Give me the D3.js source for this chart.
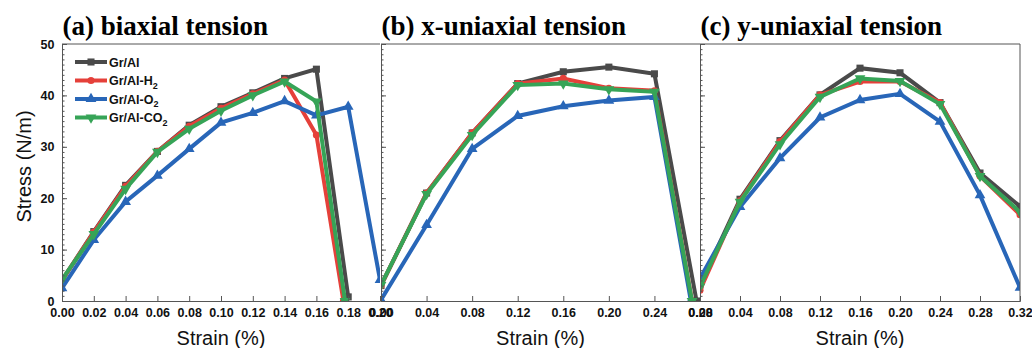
<!DOCTYPE html>
<html><head><meta charset="utf-8">
<script src="https://cdn.jsdelivr.net/npm/d3@7"></script>
<style>
html,body{margin:0;padding:0;background:#fff;}
svg{display:block;}
</style></head>
<body>
<svg id="chart" width="1032" height="348"></svg>
<script>
// ---------- DATA ----------
const seriesNames = ["Gr/Al", "Gr/Al-H2", "Gr/Al-O2", "Gr/Al-CO2"];
const panelTitles = ["(a) biaxial tension", "(b) x-uniaxial tension", "(c) y-uniaxial tension"];
const yTicks = [0, 10, 20, 30, 40, 50];
const xTicksA = [0, 0.02, 0.04, 0.06, 0.08, 0.10, 0.12, 0.14, 0.16, 0.18, 0.20];
const xTicksB = [0, 0.04, 0.08, 0.12, 0.16, 0.20, 0.24, 0.28];
const xTicksC = [0, 0.04, 0.08, 0.12, 0.16, 0.20, 0.24, 0.28, 0.32];

// (a) biaxial tension
const aGrAlX = [0, 0.02, 0.04, 0.06, 0.08, 0.10, 0.12, 0.14, 0.16, 0.18];
const aGrAlY = [4.0, 13.5, 22.5, 29.1, 34.2, 37.8, 40.5, 43.3, 45.1, 0.8];
const aH2X = [0, 0.02, 0.04, 0.06, 0.08, 0.10, 0.12, 0.14, 0.16, 0.177];
const aH2Y = [4.0, 13.4, 22.3, 29.1, 34.0, 37.5, 40.3, 43.0, 32.3, 0];
const aO2X = [0, 0.02, 0.04, 0.06, 0.08, 0.10, 0.12, 0.14, 0.16, 0.18, 0.20];
const aO2Y = [2.5, 11.9, 19.3, 24.4, 29.6, 34.7, 36.6, 38.9, 36.1, 37.8, 4.1];
const aCO2X = [0, 0.02, 0.04, 0.06, 0.08, 0.10, 0.12, 0.14, 0.16, 0.178];
const aCO2Y = [4.2, 13.0, 21.8, 29.0, 33.5, 37.0, 40.0, 42.7, 38.8, 0];

// (b) x-uniaxial tension
const bGrAlX = [0, 0.04, 0.08, 0.12, 0.16, 0.20, 0.24, 0.277];
const bGrAlY = [3.0, 21.0, 32.7, 42.3, 44.6, 45.5, 44.2, 0];
const bH2X = [0, 0.04, 0.08, 0.12, 0.16, 0.20, 0.24, 0.273];
const bH2Y = [3.0, 21.0, 32.7, 42.3, 43.3, 41.4, 40.9, 0];
const bO2X = [0, 0.04, 0.08, 0.12, 0.16, 0.20, 0.24, 0.272];
const bO2Y = [0.2, 14.8, 29.6, 36.0, 37.9, 39.0, 39.7, 0];
const bCO2X = [0, 0.04, 0.08, 0.12, 0.16, 0.20, 0.24, 0.273];
const bCO2Y = [3.1, 20.8, 32.3, 42.0, 42.3, 41.2, 40.7, 0];

// (c) y-uniaxial tension
const cStrain = [0, 0.04, 0.08, 0.12, 0.16, 0.20, 0.24, 0.28, 0.32];
const cGrAlY = [3.1, 19.8, 31.2, 40.1, 45.3, 44.4, 38.6, 24.9, 18.4];
const cH2Y = [2.1, 19.5, 31.0, 40.1, 42.7, 42.7, 38.6, 24.3, 16.8];
const cO2Y = [4.4, 18.3, 27.8, 35.7, 39.1, 40.3, 34.9, 20.6, 2.6];
const cCO2Y = [2.8, 19.3, 30.5, 39.7, 43.3, 42.8, 38.3, 24.3, 17.3];

// ---------- STYLE ----------
const colors = ["#4a4a4a", "#e5403a", "#2866b8", "#36a457"];
const symbols = [d3.symbolSquare, d3.symbolCircle, d3.symbolTriangle, d3.symbolTriangle];
const symRot = [0, 0, 0, 180];

const zip = (xs, ys) => xs.map((x, i) => [x, ys[i]]);
const panels = [
  { title: panelTitles[0], range: [62, 380], max: 0.20, ticks: xTicksA, labels: true,
    series: [zip(aGrAlX, aGrAlY), zip(aH2X, aH2Y), zip(aO2X, aO2Y), zip(aCO2X, aCO2Y)] },
  { title: panelTitles[1], range: [381, 700], max: 0.28, ticks: xTicksB, labels: false,
    series: [zip(bGrAlX, bGrAlY), zip(bH2X, bH2Y), zip(bO2X, bO2Y), zip(bCO2X, bCO2Y)] },
  { title: panelTitles[2], range: [700, 1020], max: 0.32, ticks: xTicksC, labels: false,
    series: [zip(cStrain, cGrAlY), zip(cStrain, cH2Y), zip(cStrain, cO2Y), zip(cStrain, cCO2Y)] }
];

const svg = d3.select("#chart");
const plotTop = 44, plotBottom = 301;
const y = d3.scaleLinear().domain([0, 50]).range([plotBottom, plotTop]);
const axisColor = "#555";
const tickFont = "'Liberation Sans', Arial, sans-serif";

panels.forEach((p, pi) => {
  const x = d3.scaleLinear().domain([0, p.max]).range(p.range);
  const g = svg.append("g");

  const clipId = "clip" + pi;
  svg.append("clipPath").attr("id", clipId).append("rect")
    .attr("x", p.range[0]).attr("y", plotTop).attr("width", p.range[1] - p.range[0]).attr("height", plotBottom - plotTop);

  const plot = g.append("g").attr("clip-path", `url(#${clipId})`);
  const line = d3.line().x(d => x(d[0])).y(d => y(d[1]));
  p.series.forEach((s, si) => {
    plot.append("path").datum(s).attr("d", line)
      .attr("fill", "none").attr("stroke", colors[si]).attr("stroke-width", 4)
      .attr("stroke-linejoin", "miter");
    plot.selectAll(null).data(s).enter().append("path")
      .attr("d", d3.symbol().type(symbols[si]).size(si === 1 ? 40 : 50))
      .attr("transform", d => `translate(${x(d[0])},${y(d[1])}) rotate(${symRot[si]})`)
      .attr("fill", colors[si]);
  });

  const xAxis = g.append("g").attr("transform", `translate(0,${plotBottom})`)
    .call(d3.axisBottom(x).tickValues(p.ticks).tickFormat(d3.format(".2f")).tickSize(-5).tickPadding(7));
  xAxis.select(".domain").attr("stroke", axisColor);
  xAxis.selectAll(".tick line").attr("stroke", axisColor);
  xAxis.selectAll("text").attr("font-family", tickFont).attr("font-weight", "bold")
    .attr("font-size", 12.5).attr("fill", "#111");

  const yAxis = g.append("g").attr("transform", `translate(${p.range[0]},0)`)
    .call(d3.axisLeft(y).tickValues(yTicks).tickSize(-5).tickPadding(7.5)
      .tickFormat(p.labels ? d3.format("d") : () => ""));
  yAxis.select(".domain").attr("stroke", axisColor);
  yAxis.selectAll(".tick line").attr("stroke", axisColor);
  yAxis.selectAll("text").attr("font-family", tickFont).attr("font-weight", "bold")
    .attr("font-size", 12.5).attr("fill", "#111");
  const yMinor = g.append("g").attr("transform", `translate(${p.range[0]},0)`)
    .call(d3.axisLeft(y).tickValues(d3.range(0, 51, 1)).tickSize(-2.5).tickFormat(() => ""));
  yMinor.select(".domain").remove();
  yMinor.selectAll(".tick line").attr("stroke", axisColor);

  g.append("line").attr("x1", p.range[0]).attr("x2", p.range[1]).attr("y1", plotTop).attr("y2", plotTop)
    .attr("stroke", axisColor);

  g.append("text").attr("x", p.range[0] + 0.5).attr("y", 34.5)
    .attr("font-family", "'Liberation Serif', 'Times New Roman', serif").attr("font-weight", "bold")
    .attr("font-size", 27).attr("fill", "#000").text(p.title);

  g.append("text").attr("x", (p.range[0] + p.range[1]) / 2).attr("y", 344.5)
    .attr("text-anchor", "middle").attr("font-family", tickFont).attr("font-size", 20)
    .attr("fill", "#111").text("Strain (%)");
});

svg.append("line").attr("x1", 1020).attr("x2", 1020).attr("y1", plotTop).attr("y2", plotBottom).attr("stroke", axisColor);

svg.append("text").attr("transform", `translate(31,${(plotTop + plotBottom) / 2 - 6}) rotate(-90)`)
  .attr("text-anchor", "middle").attr("font-family", tickFont).attr("font-size", 20)
  .attr("fill", "#111").text("Stress (N/m)");

const legendRows = [62, 80.5, 99, 117.5];
const legendLabels = [["Gr/Al", ""], ["Gr/Al-H", "2"], ["Gr/Al-O", "2"], ["Gr/Al-CO", "2"]];
seriesNames.forEach((name, i) => {
  const lg = svg.append("g").attr("transform", `translate(0,${legendRows[i]})`);
  lg.append("line").attr("x1", 75).attr("x2", 107).attr("y1", 0).attr("y2", 0)
    .attr("stroke", colors[i]).attr("stroke-width", 4);
  lg.append("path").attr("d", d3.symbol().type(symbols[i]).size(i === 1 ? 40 : 50))
    .attr("transform", `translate(91,0) rotate(${symRot[i]})`).attr("fill", colors[i]);
  const t = lg.append("text").attr("x", 109).attr("y", 4.5)
    .attr("font-family", tickFont).attr("font-weight", "bold").attr("font-size", 12.5).attr("fill", "#111");
  t.append("tspan").text(legendLabels[i][0]);
  if (legendLabels[i][1]) {
    t.append("tspan").attr("dy", 3.5).attr("font-size", 9).text(legendLabels[i][1]);
  }
});
</script>
</body></html>
